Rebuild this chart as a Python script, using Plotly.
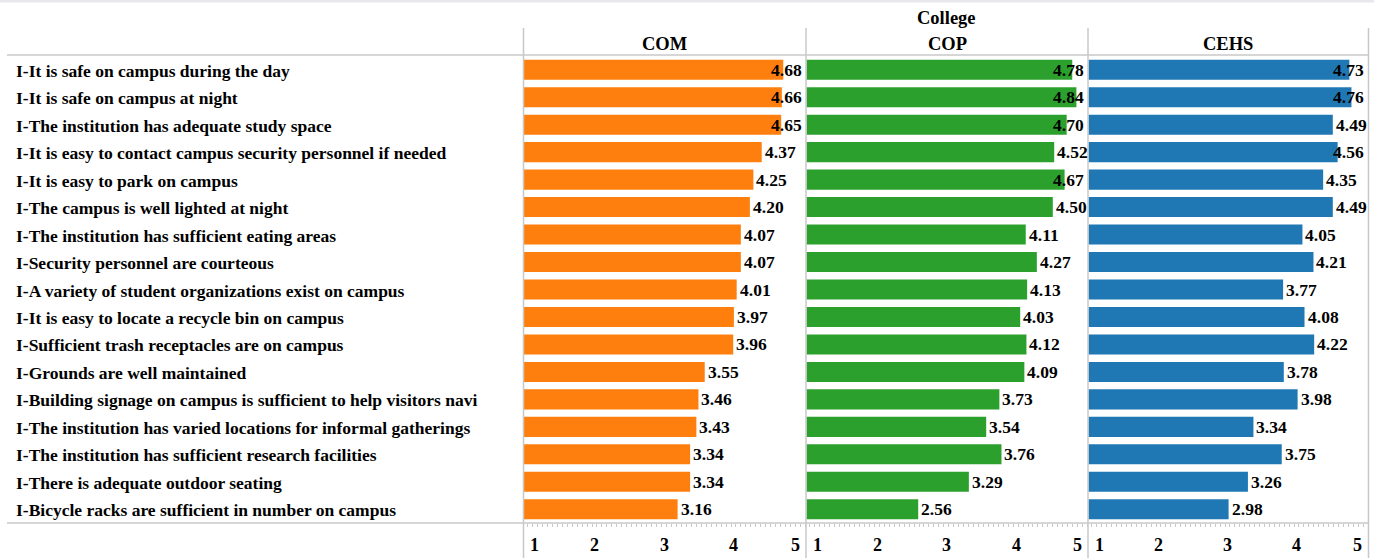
import plotly.graph_objects as go

categories = [
    "I-It is safe on campus during the day",
    "I-It is safe on campus at night",
    "I-The institution has adequate study space",
    "I-It is easy to contact campus security personnel if needed",
    "I-It is easy to park on campus",
    "I-The campus is well lighted at night",
    "I-The institution has sufficient eating areas",
    "I-Security personnel are courteous",
    "I-A variety of student organizations exist on campus",
    "I-It is easy to locate a recycle bin on campus",
    "I-Sufficient trash receptacles are on campus",
    "I-Grounds are well maintained",
    "I-Building signage on campus is sufficient to help visitors navi",
    "I-The institution has varied locations for informal gatherings",
    "I-The institution has sufficient research facilities",
    "I-There is adequate outdoor seating",
    "I-Bicycle racks are sufficient in number on campus",
]
colleges = ["COM", "COP", "CEHS"]
com = [4.68, 4.66, 4.65, 4.37, 4.25, 4.20, 4.07, 4.07, 4.01, 3.97, 3.96, 3.55, 3.46, 3.43, 3.34, 3.34, 3.16]
cop = [4.78, 4.84, 4.70, 4.52, 4.67, 4.50, 4.11, 4.27, 4.13, 4.03, 4.12, 4.09, 3.73, 3.54, 3.76, 3.29, 2.56]
cehs = [4.73, 4.76, 4.49, 4.56, 4.35, 4.49, 4.05, 4.21, 3.77, 4.08, 4.22, 3.78, 3.98, 3.34, 3.75, 3.26, 2.98]
series = [com, cop, cehs]
colors = ["#FF7F0E", "#2CA02C", "#1F77B4"]
tick_vals = [1, 2, 3, 4, 5]
tick_labels = ["1", "2", "3", "4", "5"]
header_title = "College"

W, H = 1374, 558
FONT = "Liberation Serif, serif"
panels_px = [(524, 805.5), (806.5, 1087.5), (1088.5, 1368)]
top_px, bot_px = 56, 523
x_range = [0.95, 5]
grid_col = "#c8c8c8"


def px(x):
    return x / W


def py(y):
    return 1 - y / H


fig = go.Figure()
layout = dict(
    width=W, height=H,
    margin=dict(l=0, r=0, t=0, b=0),
    plot_bgcolor="white", paper_bgcolor="white",
    showlegend=False, bargap=0.27,
    font=dict(family=FONT, color="black"),
    yaxis=dict(
        domain=[py(bot_px), py(top_px)],
        type="category",
        categoryorder="array", categoryarray=categories,
        range=[len(categories) - 0.5, -0.5],
        showticklabels=False, showgrid=False, zeroline=False,
        ticks="", anchor="x",
    ),
)

annotations = []
for i, (vals, col, name) in enumerate(zip(series, colors, colleges)):
    xa = "x" if i == 0 else f"x{i+1}"
    key = "xaxis" if i == 0 else f"xaxis{i+1}"
    x0, x1 = panels_px[i]
    layout[key] = dict(
        domain=[px(x0), px(x1)], range=x_range, anchor="y",
        showgrid=False, zeroline=False, showline=False,
        showticklabels=False,
        tickvals=tick_vals, ticks="outside", ticklen=3, tickcolor=grid_col,
        minor=dict(ticks="outside", ticklen=3, dtick=1 / 14, tickcolor=grid_col),
    )
    fig.add_trace(go.Bar(
        x=vals, y=categories, orientation="h",
        marker=dict(color=col, line=dict(width=0)),
        xaxis=xa, yaxis="y", hoverinfo="x+y",
    ))
    # panel header
    annotations.append(dict(
        text=f"<b>{name}</b>", xref="paper", yref="paper",
        x=px((x0 + x1) / 2), y=py(44), xanchor="center", yanchor="middle",
        showarrow=False, font=dict(size=18.5, family=FONT),
    ))
    # value labels
    for cat, v in zip(categories, vals):
        if v + 0.48 > x_range[1]:
            annotations.append(dict(
                text=f"<b>{v:.2f}</b>", xref=xa, yref="y", x=x_range[1], y=cat,
                xanchor="right", yanchor="middle", xshift=-2, showarrow=False,
                font=dict(size=17.5, family=FONT),
            ))
        else:
            annotations.append(dict(
                text=f"<b>{v:.2f}</b>", xref=xa, yref="y", x=v, y=cat,
                xanchor="left", yanchor="middle", xshift=1, showarrow=False,
                font=dict(size=17.5, family=FONT),
            ))
    # tick labels
    for tv, tl in zip(tick_vals, tick_labels):
        if tv == tick_vals[0]:
            anchor, shift = "left", 1
        elif tv == tick_vals[-1]:
            anchor, shift = "right", -4
        else:
            anchor, shift = "center", -2
        annotations.append(dict(
            text=f"<b>{tl}</b>", xref=xa, yref="paper", x=tv, y=py(545),
            xanchor=anchor, yanchor="middle", xshift=shift, showarrow=False,
            font=dict(size=18, family=FONT),
        ))

# row labels
for cat in categories:
    annotations.append(dict(
        text=f"<b>{cat}</b>", xref="paper", yref="y", x=px(14), y=cat,
        xanchor="left", yanchor="middle", yshift=-1, showarrow=False,
        font=dict(size=17.5, family=FONT),
    ))

annotations.append(dict(
    text=f"<b>{header_title}</b>", xref="paper", yref="paper",
    x=px((panels_px[0][0] + panels_px[-1][1]) / 2), y=py(18),
    xanchor="center", yanchor="middle", showarrow=False,
    font=dict(size=18.5, family=FONT),
))

shapes = [
    dict(type="rect", xref="paper", yref="paper", x0=0, x1=1, y0=py(2.5), y1=1,
         fillcolor="#e8e8ec", line=dict(width=0), layer="below"),
    dict(type="line", xref="paper", yref="paper", x0=px(7), x1=px(1368.5),
         y0=py(55), y1=py(55), line=dict(color=grid_col, width=1.5)),
    dict(type="line", xref="paper", yref="paper", x0=px(7), x1=px(1368.5),
         y0=py(523), y1=py(523), line=dict(color=grid_col, width=1.5)),
]
for xv in [523.5, 806, 1088, 1368.5]:
    shapes.append(dict(type="line", xref="paper", yref="paper", x0=px(xv), x1=px(xv),
                       y0=0, y1=py(28), line=dict(color=grid_col, width=1.5)))

layout["annotations"] = annotations
layout["shapes"] = shapes
fig.update_layout(**layout)
fig.write_html(
    "out.html",
    config={"displayModeBar": False},
    post_script="document.body.style.margin='0px';document.body.style.overflow='hidden';",
)
